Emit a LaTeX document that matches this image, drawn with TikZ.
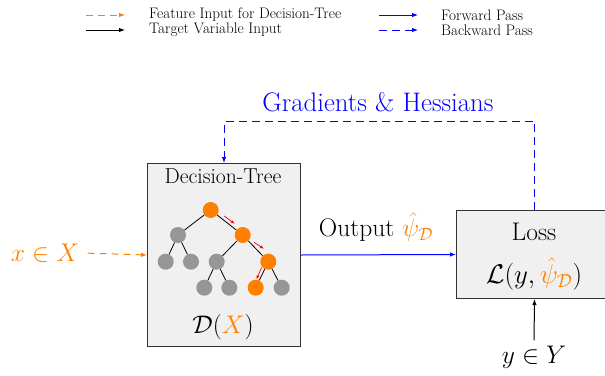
\RequirePackage{fix-cm}
\documentclass[tikz,border=0pt]{standalone}
\usetikzlibrary{arrows.meta}
\definecolor{ora}{RGB}{255,128,0}
\definecolor{boxfill}{RGB}{240,240,240}
\definecolor{nodegray}{RGB}{150,150,150}
\definecolor{boxline}{RGB}{50,50,50}
\begin{document}
\begin{tikzpicture}[x=1pt,y=-1pt,
  titlefont/.style={font=\fontsize{21.6}{26}\selectfont},
  bigfont/.style={font=\fontsize{25.5}{30}\selectfont},
  legfont/.style={font=\fontsize{15.2}{18}\selectfont},
  panel/.style={draw=boxline, line width=1pt, fill=boxfill, anchor=north west, inner sep=0pt},
  tip/.style={-{Latex[length=6pt,width=4.5pt]}},
  fwd/.style={tip, blue, line width=1pt},
  bwd/.style={tip, blue, line width=1pt, dash pattern=on 8pt off 5pt},
  feat/.style={tip, ora, line width=1pt, dash pattern=on 7pt off 5pt},
  targ/.style={tip, black, line width=1pt},
  tn/.style={circle, minimum size=16pt, inner sep=0pt},
  gn/.style={tn, fill=nodegray},
  on/.style={tn, fill=ora},
  edge/.style={black, line width=0.8pt},
  path/.style={red, line width=0.7pt, -{Latex[length=4pt,width=3pt]}}
]
\useasboundingbox (0,0) rectangle (605,375);

% legend
\coordinate (l1a) at (86,15);  \coordinate (l1b) at (125,15);
\coordinate (l2a) at (86,30);  \coordinate (l2b) at (125,30);
\coordinate (l3a) at (379,15); \coordinate (l3b) at (418,15);
\coordinate (l4a) at (379,30); \coordinate (l4b) at (418,30);
\draw[feat] (l1a) -- (l1b);
\draw[targ] (l2a) -- (l2b);
\draw[fwd] (l3a) -- (l3b);
\draw[bwd] (l4a) -- (l4b);
\node[legfont, anchor=west, inner sep=0pt] (t1) at (149,15) {Feature Input for Decision-Tree};
\node[legfont, anchor=west, inner sep=0pt] (t2) at (149,30) {Target Variable Input};
\node[legfont, anchor=west, inner sep=0pt] (t3) at (441,15) {Forward Pass};
\node[legfont, anchor=west, inner sep=0pt] (t4) at (441,30) {Backward Pass};

% boxes
\node[panel, minimum width=153pt, minimum height=183pt] (dt) at (147,163) {};
\node[panel, minimum width=156pt, minimum height=88pt] (loss) at (456,210) {};

\node[titlefont] (dttitle) at (223,176) {Decision-Tree};
\node[bigfont] (dx) at (223,327) {$\mathcal{D}(\textcolor{ora}{X})$};
\node[bigfont] (losst) at (534,232) {Loss};
\node[font=\fontsize{27}{31}\selectfont] (lossf) at (534,274) {$\mathcal{L}(y,\textcolor{ora}{\hat{\psi}_{\mathcal{D}}})$};

% tree
\node[on] (r) at (210.7,210) {};
\node[gn] (a) at (178,235) {};
\node[on] (b) at (242.7,235) {};
\node[gn] (a1) at (165.7,261.7) {};
\node[gn] (a2) at (191,261.7) {};
\node[gn] (b1) at (216.7,261.7) {};
\node[on] (b2) at (268.3,261.7) {};
\node[gn] (c1) at (204.3,287.7) {};
\node[gn] (c2) at (229.3,287.7) {};
\node[on] (d1) at (255.7,287.7) {};
\node[gn] (d2) at (281.7,287.7) {};
\foreach \p/\c in {r/a,r/b,a/a1,a/a2,b/b1,b/b2,b1/c1,b1/c2,b2/d1,b2/d2}
  \draw[edge] (\p) -- (\c);
\coordinate (p1s) at (224.3,216); \coordinate (p1e) at (234.8,223.8);
\coordinate (p2s) at (254,242.3); \coordinate (p2e) at (264,248.8);
\coordinate (p3s) at (261.5,267.5); \coordinate (p3e) at (256.5,279.5);
\draw[path] (p1s) -- (p1e);
\draw[path] (p2s) -- (p2e);
\draw[path] (p3s) -- (p3e);

% inputs
\node[bigfont, text=ora] (xin) at (45,253) {$x\in X$};
\draw[feat, shorten <=5pt] (xin.east) -- (dt.west);
\node[bigfont] (yin) at (534,357) {$y\in Y$};
\draw[targ, shorten <=2pt] (yin.north) -- (loss.south);

% forward
\draw[fwd] (dt.east) -- (loss.west);
\node[bigfont] (outl) at (376,227) {Output $\textcolor{ora}{\hat{\psi}_{\mathcal{D}}}$};

% backward
\coordinate (top) at (378,121);
\draw[bwd] (loss.north) |- (top) -| (dt.north);
\node[font=\fontsize{26.8}{31}\selectfont, text=blue] (gh) at (378,102) {Gradients \& Hessians};
\end{tikzpicture}
\end{document}
